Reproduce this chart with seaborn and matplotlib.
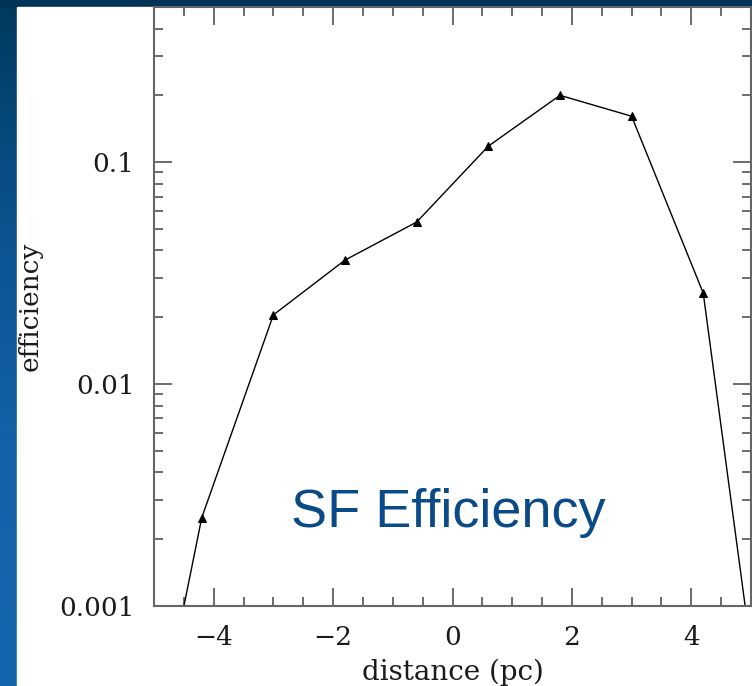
import numpy as np
import matplotlib
matplotlib.use("Agg")
import matplotlib.pyplot as plt
import seaborn as sns
import pandas as pd
from matplotlib.ticker import MultipleLocator, FixedLocator, FixedFormatter, NullFormatter, LogLocator
from matplotlib.colors import LinearSegmentedColormap

# data
distance = [-5.4, -4.2, -3.0, -1.8, -0.6, 0.6, 1.8, 3.0, 4.2, 5.4]
efficiency = [6.3e-5, 0.0025, 0.0205, 0.0362, 0.0537, 0.118, 0.200, 0.161, 0.0257, 1.0e-4]
ytick_vals = [0.001, 0.01, 0.1]
ytick_labels = ["0.001", "0.01", "0.1"]
xtick_vals = [-4, -2, 0, 2, 4]
xtick_labels = ["\u22124", "\u22122", "0", "2", "4"]

df = pd.DataFrame({"distance": distance, "efficiency": efficiency})

sns.set_theme(style="white")
plt.rcParams["font.family"] = ["DejaVu Serif"]

W, H = 752, 686
fig = plt.figure(figsize=(W / 100, H / 100), dpi=100)

# slide background gradient
bg = fig.add_axes([0, 0, 1, 1], zorder=0)
grad = np.linspace(0, 1, 256).reshape(-1, 1)
cmap = LinearSegmentedColormap.from_list("bgc", ["#003a5c", "#0b5390", "#1462aa", "#1565ae"])
bg.imshow(grad, aspect="auto", cmap=cmap, extent=[0, 1, 0, 1], origin="upper")
bg.add_patch(plt.Rectangle((0, (H - 7) / H), 1, 7 / H, color="#003355", transform=bg.transAxes))
bg.add_patch(plt.Rectangle((17 / W, 0), 1 - 17 / W, (H - 7) / H, color="white", transform=bg.transAxes))
bg.set_xlim(0, 1); bg.set_ylim(0, 1)
bg.axis("off")

ax = fig.add_axes([154 / W, (H - 606) / H, (751 - 154) / W, (606 - 7) / H], zorder=1)
ax.patch.set_alpha(0)
sns.lineplot(data=df, x="distance", y="efficiency", ax=ax, color="black", lw=1.0,
             marker="^", markersize=6, markeredgecolor="black", markerfacecolor="black")
ax.set_yscale("log")
ax.set_xlim(-5, 5)
ax.set_ylim(0.001, 0.5)

ax.xaxis.set_major_locator(FixedLocator(xtick_vals))
ax.xaxis.set_major_formatter(FixedFormatter(xtick_labels))
ax.xaxis.set_minor_locator(MultipleLocator(0.5))
ax.yaxis.set_major_locator(FixedLocator(ytick_vals))
ax.yaxis.set_major_formatter(FixedFormatter(ytick_labels))
ax.yaxis.set_minor_locator(LogLocator(base=10, subs=np.arange(2, 10)))
ax.yaxis.set_minor_formatter(NullFormatter())

ax.tick_params(which="both", direction="in", top=True, right=True, bottom=True, left=True,
               color="#444444", labelsize=19, labelcolor="#1a1a1a", pad=14)
ax.tick_params(which="major", length=13, width=1.1)
ax.tick_params(which="minor", length=6.5, width=1.1)
for s in ax.spines.values():
    s.set_color("#666666")
    s.set_linewidth(1.5)

ax.set_xlabel("distance (pc)", fontsize=20, color="#1a1a1a", labelpad=6)
ax.set_ylabel("efficiency", fontsize=19, color="#1a1a1a", labelpad=12)

ax.text(0.493, 0.155, "SF Efficiency", transform=ax.transAxes, ha="center", va="center",
        fontsize=39, color="#0a4a86", family=["Liberation Sans", "DejaVu Sans"])

fig.savefig("out.png", dpi=100)
